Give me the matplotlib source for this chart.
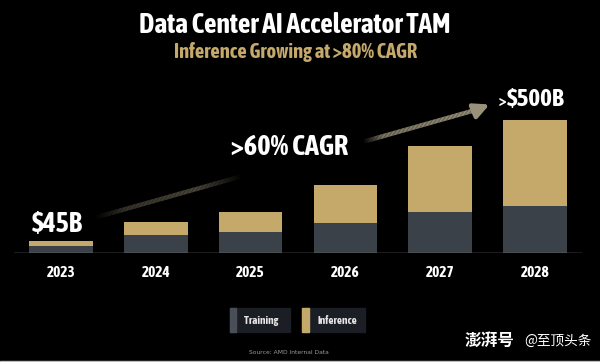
import numpy as np
import matplotlib
matplotlib.use("Agg")
import matplotlib.pyplot as plt
import matplotlib.patheffects as pe
from matplotlib import font_manager
from matplotlib.collections import LineCollection
from matplotlib.patches import Rectangle

# data ($B)
years = ["2023", "2024", "2025", "2026", "2027", "2028"]
training = [25, 68, 78, 112, 154, 176]
inference = [20, 49, 76, 144, 247, 324]

BG = "#000000"
GOLD = "#c4a96a"
SLATE = "#3b4148"

# look for a narrow bold face, the slide uses a condensed bold font
fonts = font_manager.fontManager.ttflist
def is_narrow(f):
    return any(k in f.name for k in ("Narrow", "Condensed", "Cond"))
def weight_of(f):
    w = f.weight
    return w if isinstance(w, int) else font_manager.weight_dict.get(w, 400)
narrow_bold = sorted({f.name for f in fonts if is_narrow(f) and weight_of(f) >= 600})
narrow_any = sorted({f.name for f in fonts if is_narrow(f)})
if narrow_bold:
    NARROW = dict(family=narrow_bold[0], fontweight="bold")
    FAKE = 0.0
elif narrow_any:
    NARROW = dict(family=narrow_any[0])
    FAKE = 1.0
else:
    NARROW = dict(family="DejaVu Sans", fontweight="bold")
    FAKE = 0.0


def thick(color, k=1.0):
    if FAKE == 0:
        return []
    return [pe.withStroke(linewidth=0.9 * k, foreground=color)]


fig = plt.figure(figsize=(6, 3.62), dpi=100, facecolor=BG)
ax = fig.add_axes([0.0227, 0.301, 0.948, 0.478])
ax.set_facecolor(BG)

x = np.arange(len(years))
ax.bar(x, training, width=0.67, color=SLATE, zorder=2)
ax.bar(x, inference, width=0.67, bottom=training, color=GOLD, zorder=2)

ax.set_xlim(-0.5, 5.5)
ax.set_ylim(0, 650)
ax.axhline(0, color="#8a8a8a", lw=1.0, zorder=3)
for s in ax.spines.values():
    s.set_visible(False)
ax.set_yticks([])
ax.set_xticks(x)
ax.set_xticklabels(years, color="white", fontsize=11, **NARROW)
for lab in ax.get_xticklabels():
    lab.set_path_effects(thick("white", 0.8))
ax.tick_params(axis="x", length=0, pad=9)

# growth arrow with gradient and a gap behind the CAGR text
t = np.linspace(0, 1, 300)
x0, y0, x1, y1 = 0.34, 131, 4.40, 540
px = x0 + (x1 - x0) * t
py = y0 + (y1 - y0) * t
gap_lo, gap_hi = 0.385, 0.70
fade = np.clip((gap_lo - t) / 0.12, 0, 1) + np.clip((t - gap_hi) / 0.05, 0, 1)
inten = (0.3 + 0.7 * t) * np.clip(fade, 0, 1) * np.clip(t / 0.08, 0, 1)
tip = np.array([0.60, 0.57, 0.48])
cols = np.column_stack([np.outer(inten, tip), np.ones_like(t)])
pts = np.column_stack([px, py]).reshape(-1, 1, 2)
segs = np.concatenate([pts[:-1], pts[1:]], axis=1)
ax.add_collection(LineCollection(segs, colors=cols[:-1], linewidths=3.2, zorder=1))
ax.annotate("", xy=(4.52, 558), xytext=(4.38, 537),
            arrowprops=dict(arrowstyle="-|>,head_length=0.9,head_width=0.45",
                            color=tip, lw=3.2, shrinkA=0, shrinkB=0), zorder=1)

ax.text(-0.04, 58, "$45B", color="white", fontsize=20, ha="center", va="bottom",
        path_effects=thick("white", 1.2), **NARROW)
ax.text(2.41, 395, ">60% CAGR", color="white", fontsize=20.5, ha="center", va="center",
        path_effects=thick("white", 1.2), **NARROW)
ax.text(4.69, 570, ">", color="white", fontsize=12, ha="right", va="center",
        path_effects=thick("white"), **NARROW)
ax.text(4.70, 578, "$500B", color="white", fontsize=18, ha="left", va="center",
        path_effects=thick("white", 1.2), **NARROW)

# titles
fig.text(0.492, 0.930, "Data Center AI Accelerator TAM", color="white",
         fontsize=19.8, ha="center", va="center",
         path_effects=thick("white", 1.3), **NARROW)
fig.text(0.492, 0.856, "Inference Growing at >80% CAGR", color=GOLD,
         fontsize=14.8, ha="center", va="center",
         path_effects=thick(GOLD, 1.0), **NARROW)

# legend boxes
W, H = 600.0, 362.0
def box(x_px, w_px, strip_px, strip_col, label):
    fig.add_artist(Rectangle((x_px / W, 1 - 332 / H), w_px / W, 24 / H,
                             transform=fig.transFigure, color="#1b1e24"))
    fig.add_artist(Rectangle((x_px / W, 1 - 332 / H), strip_px / W, 24 / H,
                             transform=fig.transFigure, color=strip_col))
    fig.text((x_px + strip_px + 8) / W, 1 - 320 / H, label, color="#e6e6e6",
             fontsize=8, ha="left", va="center",
             path_effects=thick("#e6e6e6", 0.6), **NARROW)

box(230, 60, 6, "#4a4f57", "Training")
box(302, 63, 7, GOLD, "Inference")

fig.text(289 / W, 1 - 352 / H, "Source: AMD Internal Data", color="#9a9a9a",
         fontsize=4.3, ha="center", va="center")

# watermark
fig.text(465 / W, 1 - 341 / H, "澎湃号", color="white", fontsize=12,
         fontweight="bold", ha="left", va="center",
         family=["Noto Sans CJK SC", "DejaVu Sans"])
fig.text(524 / W, 1 - 341 / H, "@至顶头条", color="white", fontsize=9.8,
         ha="left", va="center", family=["Noto Sans CJK SC", "DejaVu Sans"])

fig.add_artist(Rectangle((0, 0), 1, 1.5 / H, transform=fig.transFigure,
                         color="#bdbdbd"))

fig.savefig("out.png", dpi=100, facecolor=BG)
